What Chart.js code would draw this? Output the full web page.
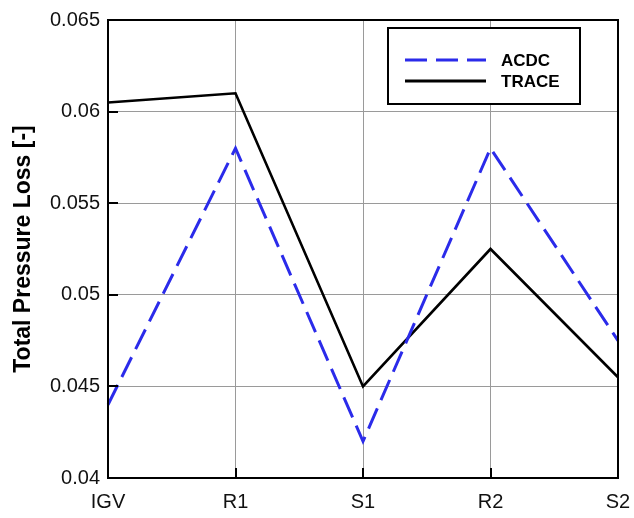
<!DOCTYPE html>
<html>
<head>
<meta charset="utf-8">
<script src="https://cdn.jsdelivr.net/npm/chart.js@4.4.1/dist/chart.umd.min.js"></script>
<style>
  html, body { margin: 0; padding: 0; background: #ffffff; }
  #wrap { width: 634px; height: 518px; position: relative; }
</style>
</head>
<body>
<div id="wrap"><canvas id="lossChart"></canvas></div>
<script>
// Chart data
const stages = ["IGV", "R1", "S1", "R2", "S2"];
const acdcLoss = [0.044, 0.058, 0.042, 0.058, 0.0475];
const traceLoss = [0.0605, 0.061, 0.045, 0.0525, 0.0455];
const yTicks = [0.04, 0.045, 0.05, 0.055, 0.06, 0.065];

// frame around the plot area + short inward ticks
const framePlugin = {
  id: "frame",
  afterDraw(chart) {
    const { ctx, chartArea, scales } = chart;
    ctx.save();
    ctx.strokeStyle = "#000";
    ctx.lineWidth = 2;
    ctx.beginPath();
    scales.y.ticks.forEach((t) => {
      const py = Math.round(scales.y.getPixelForValue(t.value));
      ctx.moveTo(chartArea.left, py);
      ctx.lineTo(chartArea.left + 10, py);
    });
    stages.forEach((s, i) => {
      const px = Math.round(scales.x.getPixelForValue(i));
      ctx.moveTo(px, chartArea.bottom);
      ctx.lineTo(px, chartArea.bottom - 10);
    });
    ctx.stroke();
    ctx.strokeRect(chartArea.left, chartArea.top, chartArea.right - chartArea.left, chartArea.bottom - chartArea.top);
    ctx.restore();
  },
};

// boxed legend in the upper right
const boxLegendPlugin = {
  id: "boxLegend",
  afterDraw(chart) {
    const { ctx } = chart;
    const x = 388, y = 28, w = 192, h = 76;
    ctx.save();
    ctx.fillStyle = "#fff";
    ctx.fillRect(x, y, w, h);
    ctx.strokeStyle = "#000";
    ctx.lineWidth = 2;
    ctx.strokeRect(x, y, w, h);
    chart.data.datasets.forEach((ds, i) => {
      const ly = y + 32 + i * 21;
      ctx.beginPath();
      ctx.strokeStyle = ds.borderColor;
      ctx.lineWidth = 3;
      ctx.setLineDash(ds.borderDash || []);
      ctx.moveTo(x + 17, ly);
      ctx.lineTo(x + 98, ly);
      ctx.stroke();
      ctx.setLineDash([]);
      ctx.fillStyle = "#000";
      ctx.font = "bold 17px 'Liberation Sans', Arial, sans-serif";
      ctx.textBaseline = "middle";
      ctx.fillText(ds.label, x + 113, ly + 1);
    });
    ctx.restore();
  },
};

const ctx = document.getElementById("lossChart").getContext("2d");

new Chart(ctx, {
  type: "line",
  data: {
    labels: stages,
    datasets: [
      {
        label: "ACDC",
        data: acdcLoss,
        borderColor: "#2b2bea",
        borderWidth: 3,
        borderDash: [22, 9],
        pointRadius: 0,
        tension: 0,
        fill: false,
      },
      {
        label: "TRACE",
        data: traceLoss,
        borderColor: "#000000",
        borderWidth: 2.6,
        pointRadius: 0,
        tension: 0,
        fill: false,
      },
    ],
  },
  options: {
    responsive: true,
    maintainAspectRatio: false,
    animation: false,
    layout: {
      padding: { left: 0, right: 16, top: 18, bottom: 0 },
    },
    plugins: {
      legend: { display: false },
      tooltip: { enabled: false },
    },
    scales: {
      x: {
        offset: false,
        grid: {
          color: "#9a9a9a",
          lineWidth: 1,
          drawTicks: false,
        },
        border: { display: false },
        ticks: {
          color: "#111",
          font: { family: "'Liberation Sans', Arial, sans-serif", size: 20 },
          padding: 12,
          maxRotation: 0,
          autoSkip: false,
        },
        afterFit: function (scale) {
          scale.height = 40;
          scale.paddingRight = 0;
        },
      },
      y: {
        min: 0.04,
        max: 0.065,
        afterBuildTicks: function (scale) {
          scale.ticks = yTicks.map((v) => ({ value: v }));
        },
        grid: {
          color: "#9a9a9a",
          lineWidth: 1,
          drawTicks: false,
        },
        border: { display: false },
        ticks: {
          color: "#111",
          font: { family: "'Liberation Sans', Arial, sans-serif", size: 20 },
          padding: 8,
          callback: function (value) {
            return String(parseFloat(Number(value).toFixed(3)));
          },
        },
        title: {
          display: true,
          text: "Total Pressure Loss [-]",
          color: "#000",
          font: { family: "'Liberation Sans', Arial, sans-serif", size: 23, weight: "bold" },
          padding: { top: 10, bottom: 0 },
        },
        afterFit: function (scale) {
          scale.width = 108;
        },
      },
    },
  },
  plugins: [framePlugin, boxLegendPlugin],
});
</script>
</body>
</html>
